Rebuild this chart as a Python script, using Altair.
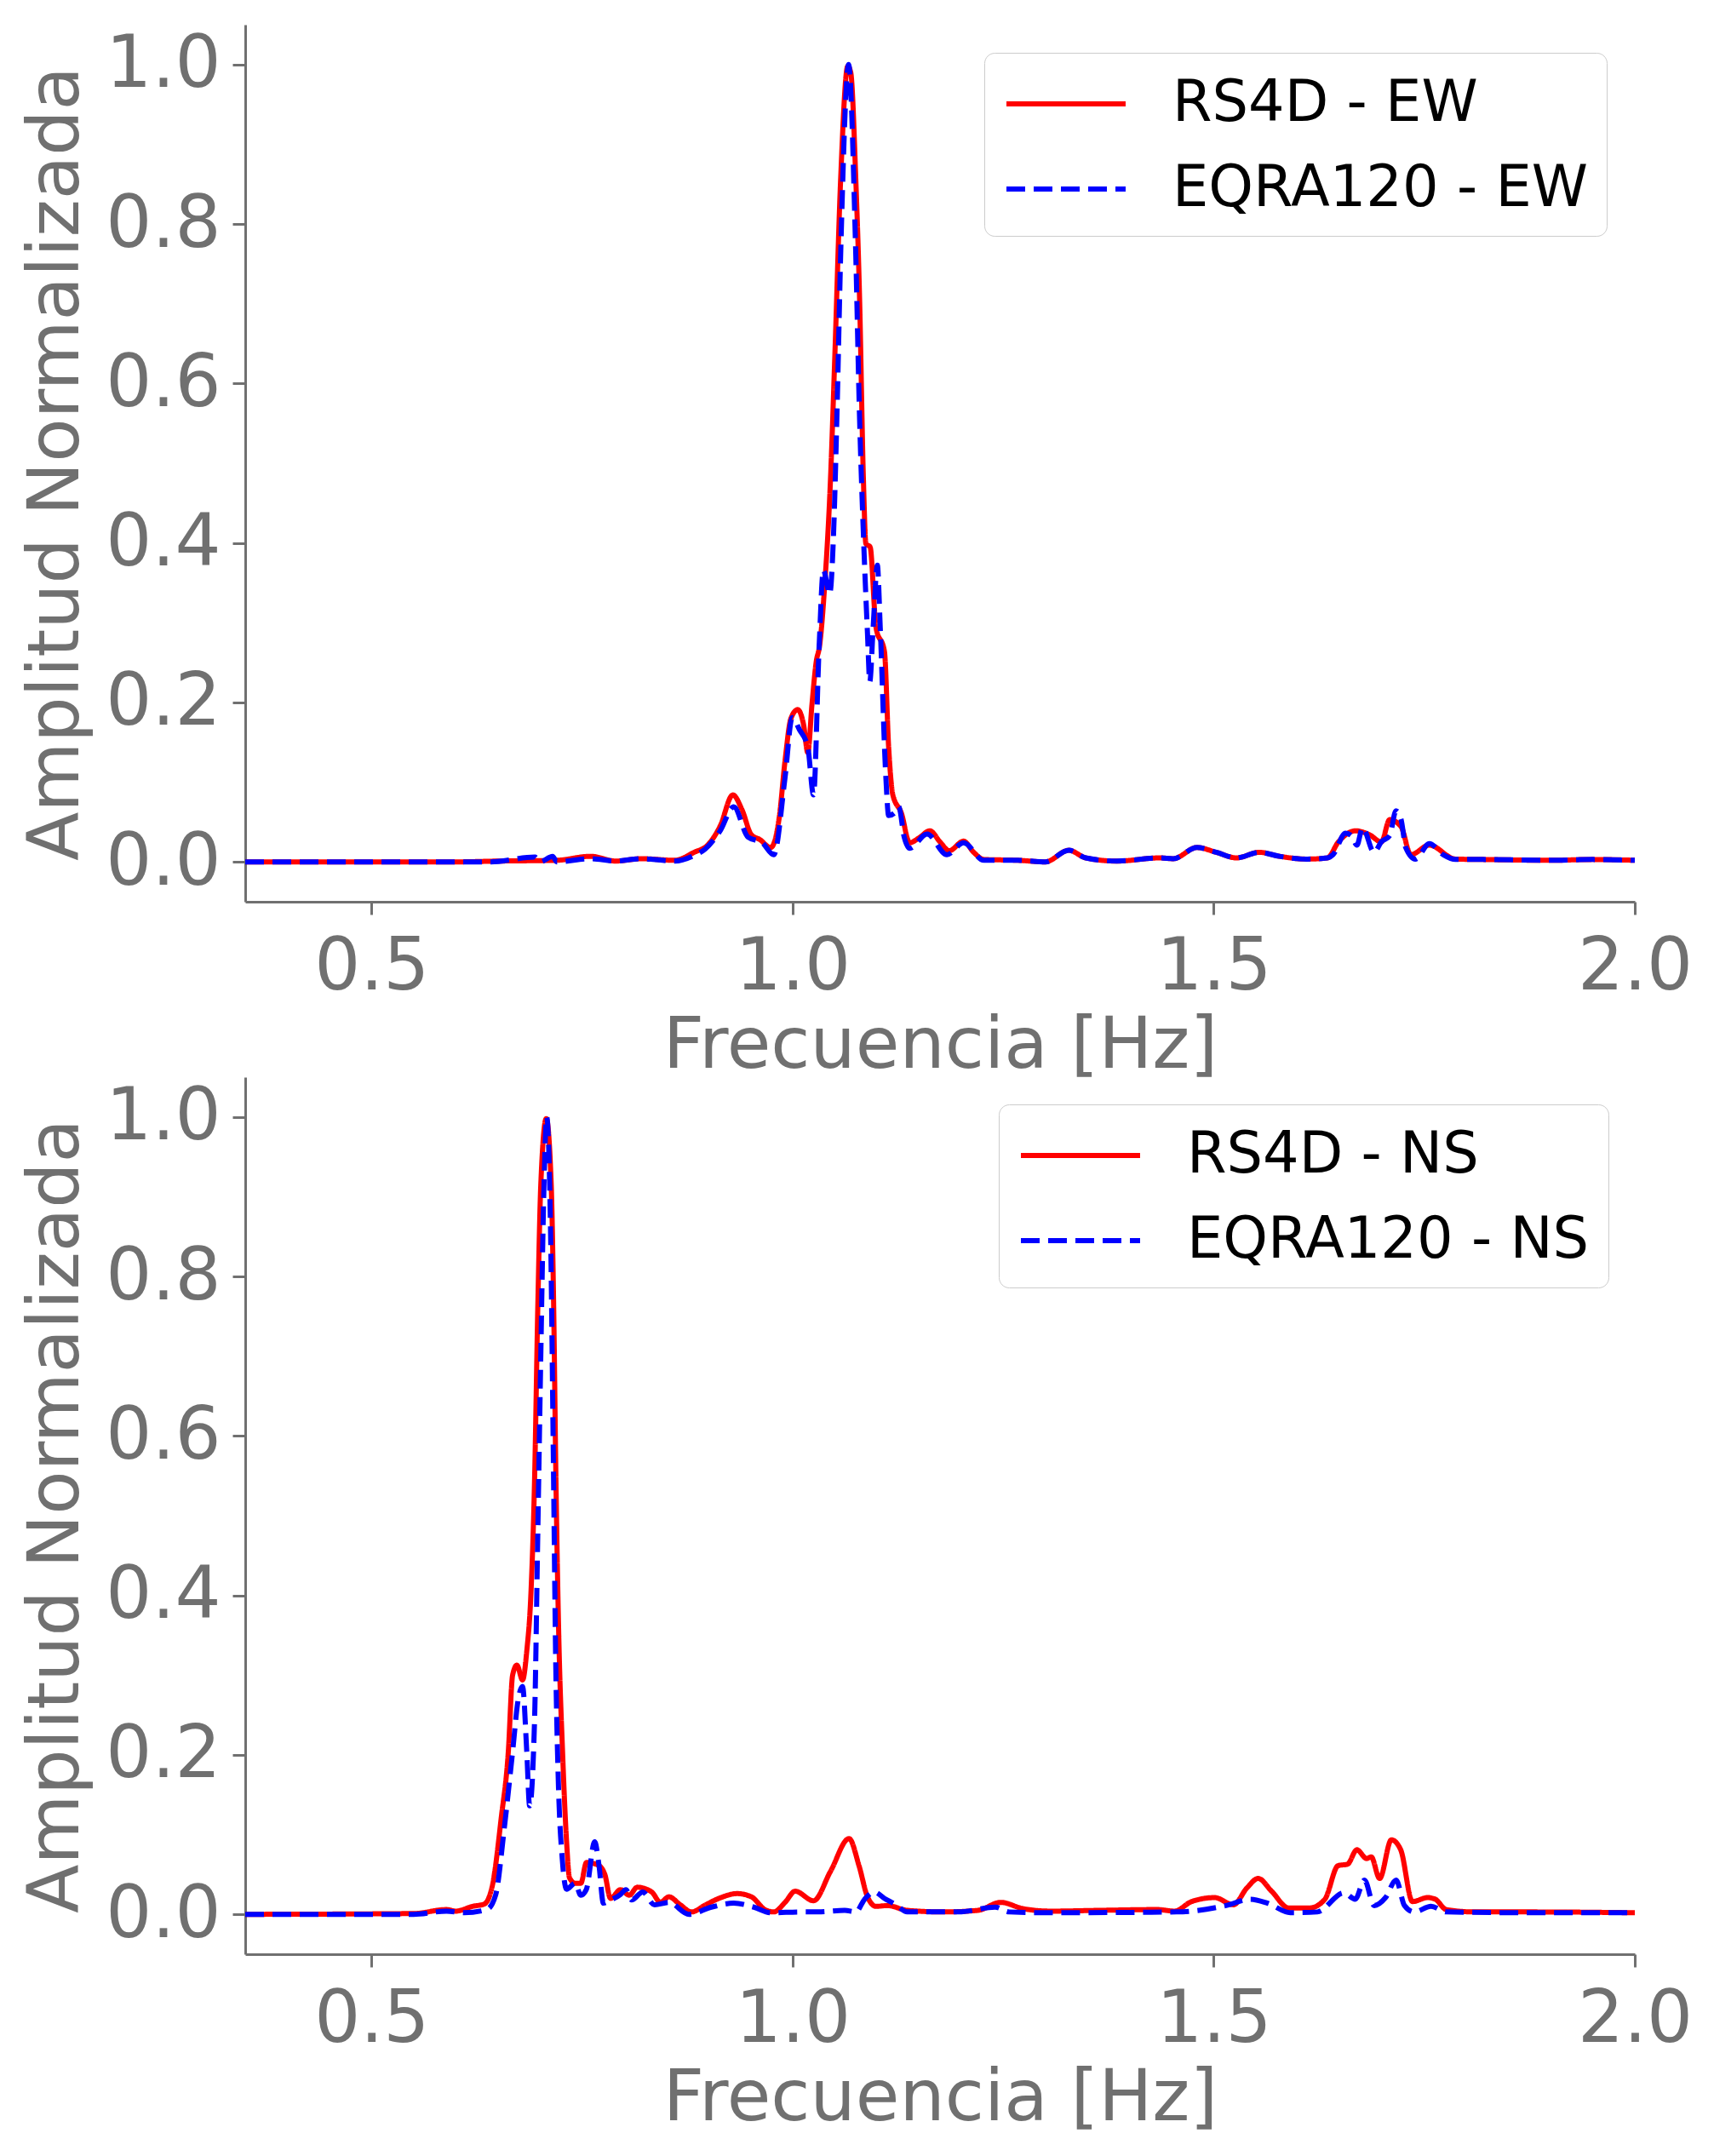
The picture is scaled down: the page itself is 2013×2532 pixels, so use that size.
import altair as alt
import pandas as pd

# ---------------- EW component ----------------
ew_rs4d_f = [0.35, 0.60, 0.65, 0.72, 0.76, 0.79, 0.82, 0.86, 0.883, 0.90, 0.914, 0.929, 0.94, 0.951,
             0.961, 0.974, 0.984, 0.991, 0.998, 1.006, 1.013, 1.018, 1.023, 1.028, 1.032, 1.038, 1.045,
             1.050, 1.057, 1.0655, 1.069, 1.075, 1.0795, 1.084, 1.087, 1.092, 1.099, 1.109, 1.114,
             1.119, 1.129, 1.139, 1.150, 1.163, 1.175, 1.186, 1.203, 1.215, 1.227, 1.267, 1.30, 1.328,
             1.348, 1.385, 1.436, 1.452, 1.48, 1.503, 1.527, 1.554, 1.578, 1.611, 1.635, 1.648, 1.6685,
             1.685, 1.699, 1.709, 1.7225, 1.734, 1.756, 1.787, 1.82, 1.90, 1.95, 2.0]
ew_rs4d_v = [0.0, 0.0, 0.001, 0.002, 0.007, 0.001, 0.004, 0.002, 0.012, 0.022, 0.045, 0.084, 0.065, 0.034,
             0.028, 0.018, 0.055, 0.127, 0.18, 0.191, 0.172, 0.137, 0.198, 0.251, 0.271, 0.346, 0.481,
             0.631, 0.856, 0.998, 0.99, 0.856, 0.706, 0.481, 0.399, 0.395, 0.294, 0.264, 0.144,
             0.084, 0.0615, 0.024, 0.030, 0.039, 0.025, 0.014, 0.026, 0.012, 0.003, 0.002, 0.0, 0.0145,
             0.005, 0.001, 0.005, 0.004, 0.018, 0.012, 0.005, 0.012, 0.007, 0.0035, 0.005, 0.025, 0.039,
             0.034, 0.025, 0.053, 0.044, 0.009, 0.021, 0.0035, 0.003, 0.002, 0.003, 0.002]

ew_eqra_f = [0.35, 0.64, 0.694, 0.70, 0.715, 0.72, 0.76, 0.79, 0.82, 0.86, 0.883, 0.896, 0.914, 0.930,
             0.947, 0.964, 0.9776, 0.991, 0.9995, 1.008, 1.018, 1.0248, 1.0315, 1.0365, 1.044, 1.0484,
             1.0525, 1.0575, 1.0665, 1.0745, 1.0795, 1.0842, 1.0889, 1.0916, 1.0956, 1.1006, 1.104,
             1.1107, 1.114, 1.121, 1.126, 1.1325, 1.139, 1.1596, 1.1832, 1.203, 1.227, 1.267, 1.30,
             1.328, 1.348, 1.385, 1.436, 1.452, 1.48, 1.503, 1.527, 1.554, 1.578, 1.611, 1.635, 1.6416,
             1.6566, 1.6634, 1.67, 1.6768, 1.6903, 1.699, 1.709, 1.7164, 1.7225, 1.728, 1.7395, 1.756,
             1.7725, 1.787, 1.82, 1.90, 1.95, 2.0]
ew_eqra_v = [0.0, 0.0, 0.006, 0.0, 0.007, 0.0, 0.004, 0.001, 0.004, 0.001, 0.008, 0.016, 0.039, 0.069,
             0.031, 0.024, 0.009, 0.106, 0.181, 0.166, 0.144, 0.084, 0.271, 0.366, 0.336, 0.406,
             0.556, 0.781, 1.0, 0.781, 0.556, 0.406, 0.286, 0.226, 0.294, 0.372, 0.294,
             0.106, 0.058, 0.0615, 0.069, 0.031, 0.017, 0.035, 0.009, 0.024, 0.002, 0.002, 0.0,
             0.0145, 0.005, 0.001, 0.005, 0.004, 0.018, 0.012, 0.005, 0.012, 0.007, 0.0035, 0.005, 0.009,
             0.036, 0.033, 0.021, 0.043, 0.012, 0.025, 0.033, 0.064, 0.053, 0.018, 0.0035, 0.023,
             0.009, 0.003, 0.003, 0.002, 0.003, 0.002]

# ---------------- NS component ----------------
ns_rs4d_f = [0.35, 0.55, 0.589, 0.60, 0.62, 0.634, 0.644, 0.654, 0.6624, 0.6675, 0.6726, 0.6793, 0.6843,
             0.6894, 0.6935, 0.6975, 0.701, 0.7075, 0.7133, 0.7162, 0.719, 0.7222, 0.7268, 0.7316,
             0.735, 0.7417, 0.7485, 0.7552, 0.7687, 0.777, 0.7838, 0.7956, 0.806, 0.8155, 0.8327,
             0.843, 0.853, 0.8665, 0.88, 0.8967, 0.9136, 0.9338, 0.951, 0.967, 0.9776, 0.991, 1.003,
             1.0248, 1.045, 1.067, 1.0788, 1.0889, 1.099, 1.1125, 1.136, 1.18, 1.22, 1.247, 1.274,
             1.307, 1.365, 1.433, 1.4535, 1.4737, 1.501, 1.5235, 1.5393, 1.5528, 1.5687, 1.589, 1.614,
             1.632, 1.6476, 1.659, 1.670, 1.6815, 1.687, 1.697, 1.711, 1.722, 1.736, 1.754, 1.763,
             1.776, 1.81, 1.88, 2.0]
ns_rs4d_v = [0.0, 0.001, 0.006, 0.004, 0.010, 0.013, 0.039, 0.121, 0.204, 0.30, 0.3125, 0.294, 0.33,
             0.406, 0.541, 0.766, 0.916, 0.998, 0.916, 0.766, 0.541, 0.354, 0.204, 0.091,
             0.046, 0.039, 0.039, 0.065, 0.062, 0.05, 0.02, 0.031, 0.024, 0.034, 0.028,
             0.015, 0.022, 0.012, 0.003, 0.012, 0.0205, 0.026, 0.022, 0.006, 0.003, 0.015, 0.029,
             0.017, 0.054, 0.095, 0.061, 0.022, 0.01, 0.011, 0.005, 0.003, 0.005, 0.015, 0.007,
             0.004, 0.005, 0.006, 0.004, 0.016, 0.021, 0.012, 0.033, 0.045, 0.029, 0.008, 0.008,
             0.019, 0.061, 0.063, 0.081, 0.07, 0.072, 0.045, 0.0935, 0.081, 0.016, 0.021, 0.019,
             0.006, 0.003, 0.003, 0.002]

ns_eqra_f = [0.35, 0.55, 0.589, 0.61, 0.637, 0.6473, 0.6574, 0.6675, 0.6742, 0.6793, 0.6843, 0.6877,
             0.6935, 0.6972, 0.7008, 0.7048, 0.708, 0.7128, 0.7158, 0.7187, 0.7218, 0.7265, 0.7316,
             0.7417, 0.7485, 0.755, 0.765, 0.770, 0.7753, 0.782, 0.7956, 0.802, 0.8088, 0.822, 0.836,
             0.853, 0.877, 0.9035, 0.930, 0.954, 0.974, 1.01, 1.03, 1.0618, 1.075, 1.0855, 1.097,
             1.109, 1.1226, 1.136, 1.197, 1.2405, 1.257, 1.307, 1.456, 1.5145, 1.5438, 1.564, 1.591,
             1.623, 1.6545, 1.668, 1.679, 1.6905, 1.704, 1.7165, 1.7265, 1.738, 1.758, 1.776, 1.88, 2.0]
ns_eqra_v = [0.0, 0.0, 0.004, 0.002, 0.006, 0.024, 0.106, 0.204, 0.27, 0.286, 0.204, 0.136,
             0.241, 0.466, 0.691, 0.916, 1.0, 0.841, 0.579, 0.316, 0.166, 0.069, 0.0315,
             0.039, 0.024, 0.031, 0.091, 0.062, 0.014, 0.017, 0.025, 0.031, 0.018, 0.028, 0.012,
             0.015, 0.0, 0.009, 0.014, 0.009, 0.002, 0.003, 0.003, 0.005, 0.003, 0.019, 0.028,
             0.02, 0.012, 0.003, 0.003, 0.009, 0.003, 0.002, 0.003, 0.011, 0.019, 0.014, 0.002,
             0.003, 0.027, 0.019, 0.043, 0.011, 0.021, 0.043, 0.011, 0.003, 0.01, 0.003, 0.002, 0.002]

x_ticks = [0.5, 1.0, 1.5, 2.0]
y_ticks = [0.0, 0.2, 0.4, 0.6, 0.8, 1.0]

GRAY = "#707070"
FONT = "DejaVu Sans"


def panel(comp, f_r, v_r, f_b, v_b, lx, ly):
    lab_r = f"RS4D - {comp}"
    lab_b = f"EQRA120 - {comp}"
    df_r = pd.DataFrame({"f": f_r, "v": v_r, "serie": lab_r})
    df_b = pd.DataFrame({"f": f_b, "v": v_b, "serie": lab_b})

    leg = alt.Legend(
        title=None, orient="none", legendX=lx, legendY=ly,
        labelFontSize=67, labelColor="black", labelFont=FONT, labelLimit=0,
        symbolType="M-2,0H2", symbolSize=4900, symbolStrokeWidth=6,
        symbolOffset=36, labelOffset=87,
        padding=22, rowPadding=29,
        fillColor="white", strokeColor="#cccccc", cornerRadius=12,
    )
    color = alt.Color("serie:N",
                      scale=alt.Scale(domain=[lab_r, lab_b], range=["#ff0000", "#0000ff"]),
                      legend=leg)
    dash = alt.StrokeDash("serie:N",
                          scale=alt.Scale(domain=[lab_r, lab_b], range=[[1, 0], [22, 10]]),
                          legend=leg)
    x = alt.X("f:Q", scale=alt.Scale(domain=[0.35, 2.0], nice=False, zero=False),
              axis=alt.Axis(values=x_ticks, format=".1f", title="Frecuencia [Hz]",
                            labelFontSize=85, labelColor=GRAY, labelFont=FONT,
                            labelPadding=20, labelFlush=False, labelOverlap=False,
                            tickColor=GRAY, tickSize=15, tickWidth=3,
                            domainColor=GRAY, domainWidth=3, grid=False,
                            titleFontSize=84, titleFont=FONT, titleFontWeight="normal",
                            titleColor=GRAY, titlePadding=9))
    y = alt.Y("v:Q", scale=alt.Scale(domain=[-0.05, 1.05], nice=False, zero=False),
              axis=alt.Axis(values=y_ticks, format=".1f", title="Amplitud Normalizada",
                            labelFontSize=85, labelColor=GRAY, labelFont=FONT,
                            labelPadding=14, labelFlush=False, labelOverlap=False,
                            tickColor=GRAY, tickSize=15, tickWidth=3,
                            domainColor=GRAY, domainWidth=3, grid=False,
                            titleFontSize=84, titleFont=FONT, titleFontWeight="normal",
                            titleColor=GRAY, titlePadding=14))
    red = alt.Chart(df_r).mark_line(strokeWidth=6, interpolate="monotone", clip=True).encode(
        x=x, y=y, color=color, strokeDash=dash, order=alt.Order("f:Q"))
    blue = alt.Chart(df_b).mark_line(strokeWidth=6, interpolate="monotone", clip=True).encode(
        x=x, y=y, color=color, strokeDash=dash, order=alt.Order("f:Q"))
    return alt.layer(red, blue).properties(width=1632, height=1030)


top = panel("EW", ew_rs4d_f, ew_rs4d_v, ew_eqra_f, ew_eqra_v, 868, 33)
bottom = panel("NS", ns_rs4d_f, ns_rs4d_v, ns_eqra_f, ns_eqra_v, 885, 32)

chart = alt.vconcat(top, bottom, spacing=206, bounds="flush").resolve_scale(
    color="independent", strokeDash="independent"
).configure_view(stroke=None).properties(
    padding={"left": 16, "top": 21, "right": 10, "bottom": 10},
    background="white",
)

chart.save("out.html", embed_options={"renderer": "svg", "actions": False})
